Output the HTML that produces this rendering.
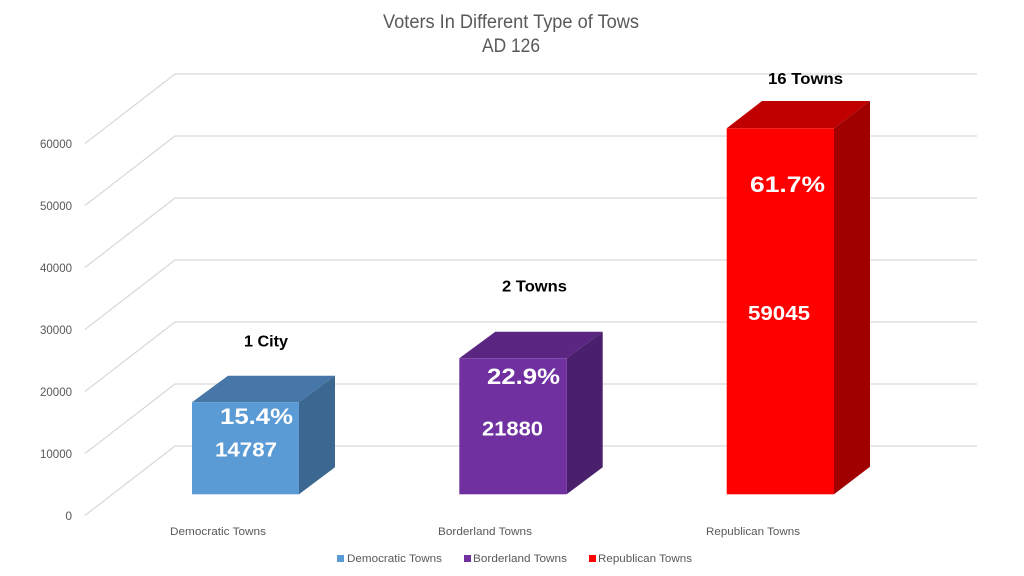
<!DOCTYPE html>
<html>
<head>
<meta charset="utf-8">
<style>
html,body{margin:0;padding:0;background:#fff;}
svg{display:block;}
text{font-family:"Liberation Sans",sans-serif;}
</style>
</head>
<body>
<svg width="1024" height="576" viewBox="0 0 1024 576" xmlns="http://www.w3.org/2000/svg">
<rect width="1024" height="576" fill="#fff"/>
<!-- Title -->
<text x="511" y="28" font-size="19" fill="#595959" text-anchor="middle" textLength="256" lengthAdjust="spacingAndGlyphs">Voters In Different Type of Tows</text>
<text x="511" y="52" font-size="19" fill="#595959" text-anchor="middle" textLength="58" lengthAdjust="spacingAndGlyphs">AD 126</text>

<!-- gridlines -->
<g stroke="#d9d9d9" stroke-width="1.2" fill="none">
<polyline points="85,143.5 175,74 977,74"/>
<polyline points="85,205.5 175,136 977,136"/>
<polyline points="85,267.5 175,198 977,198"/>
<polyline points="85,329.5 175,260 977,260"/>
<polyline points="85,391.5 175,322 977,322"/>
<polyline points="85,453.5 175,384 977,384"/>
<polyline points="85,515.5 175,446 977,446"/>
</g>

<!-- y labels -->
<g font-size="12" fill="#595959" text-anchor="end">
<text x="72" y="148" textLength="32" lengthAdjust="spacingAndGlyphs">60000</text>
<text x="72" y="210" textLength="32" lengthAdjust="spacingAndGlyphs">50000</text>
<text x="72" y="272" textLength="32" lengthAdjust="spacingAndGlyphs">40000</text>
<text x="72" y="334" textLength="32" lengthAdjust="spacingAndGlyphs">30000</text>
<text x="72" y="396" textLength="32" lengthAdjust="spacingAndGlyphs">20000</text>
<text x="72" y="458" textLength="32" lengthAdjust="spacingAndGlyphs">10000</text>
<text x="72" y="520">0</text>
</g>

<!-- Blue bar -->
<polygon points="192,402.3 228,375.7 335,375.7 299,402.3" fill="#4677a8"/>
<polygon points="299,402.3 335,375.7 335,467.3 299,494.3" fill="#3b6790"/>
<rect x="192" y="402.3" width="107" height="92" fill="#5b9bd5"/>

<!-- Purple bar -->
<polygon points="459.3,358.3 495.3,331.7 602.7,331.7 566.7,358.3" fill="#5b2682"/>
<polygon points="566.7,358.3 602.7,331.7 602.7,467.3 566.7,494.3" fill="#4a1f6b"/>
<rect x="459.3" y="358.3" width="107.4" height="136" fill="#7030a0"/>

<!-- Red bar -->
<polygon points="726.7,128.3 762,101 870,101 834,128.3" fill="#c00000"/>
<polygon points="834,128.3 870,101 870,466.7 834,494.3" fill="#a00000"/>
<rect x="726.7" y="128.3" width="107.3" height="366" fill="#ff0000"/>

<!-- data labels -->
<g font-weight="bold" fill="#fff">
<text x="220" y="424" font-size="22" textLength="73" lengthAdjust="spacingAndGlyphs">15.4%</text>
<text x="215" y="456.5" font-size="20" textLength="62" lengthAdjust="spacingAndGlyphs">14787</text>
<text x="487" y="384" font-size="22" textLength="73" lengthAdjust="spacingAndGlyphs">22.9%</text>
<text x="482" y="435.5" font-size="20" textLength="61" lengthAdjust="spacingAndGlyphs">21880</text>
<text x="750" y="192" font-size="22" textLength="75" lengthAdjust="spacingAndGlyphs">61.7%</text>
<text x="748" y="320" font-size="20" textLength="62" lengthAdjust="spacingAndGlyphs">59045</text>
</g>
<g font-weight="bold" fill="#000" font-size="16">
<text x="244" y="346.5" textLength="44" lengthAdjust="spacingAndGlyphs">1 City</text>
<text x="502" y="291.5" textLength="65" lengthAdjust="spacingAndGlyphs">2 Towns</text>
<text x="768" y="84" textLength="75" lengthAdjust="spacingAndGlyphs">16 Towns</text>
</g>

<!-- category labels -->
<g font-size="11" fill="#595959">
<text x="170" y="535" textLength="96" lengthAdjust="spacingAndGlyphs">Democratic Towns</text>
<text x="438" y="535" textLength="94" lengthAdjust="spacingAndGlyphs">Borderland Towns</text>
<text x="706" y="535" textLength="94" lengthAdjust="spacingAndGlyphs">Republican Towns</text>
</g>

<!-- legend -->
<rect x="337" y="555" width="7" height="7" fill="#5b9bd5"/>
<rect x="464" y="555" width="7" height="7" fill="#7030a0"/>
<rect x="589" y="555" width="7" height="7" fill="#ff0000"/>
<g font-size="11" fill="#595959">
<text x="347" y="562" textLength="95" lengthAdjust="spacingAndGlyphs">Democratic Towns</text>
<text x="473" y="562" textLength="94" lengthAdjust="spacingAndGlyphs">Borderland Towns</text>
<text x="598" y="562" textLength="94" lengthAdjust="spacingAndGlyphs">Republican Towns</text>
</g>
</svg>
</body>
</html>
